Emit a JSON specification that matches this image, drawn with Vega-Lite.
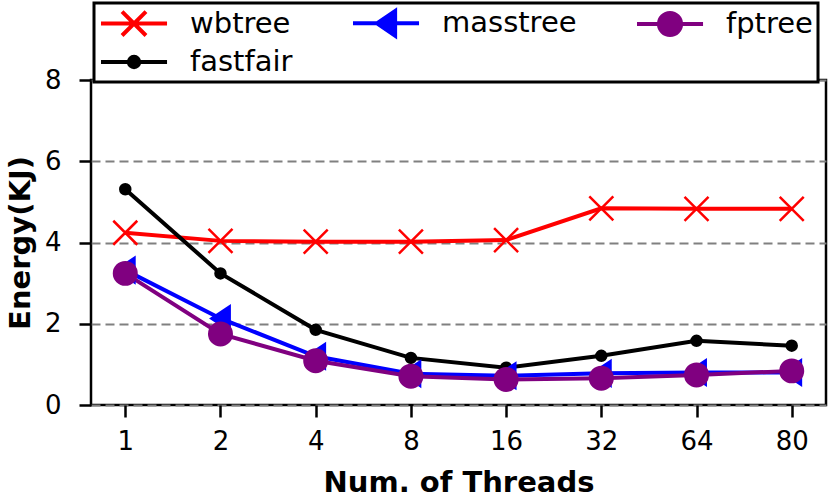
{
  "$schema": "https://vega.github.io/schema/vega-lite/v6.json",
  "width": 735,
  "height": 325,
  "autosize": {"type": "none"},
  "padding": {"left": 91, "top": 80, "right": 4, "bottom": 97},
  "background": "white",
  "config": {
    "font": "DejaVu Sans",
    "view": {"stroke": "black", "strokeWidth": 2.5}
  },
  "data": {
    "values": [
      {"threads": "1", "tree": "wbtree", "energy": 4.24},
      {"threads": "2", "tree": "wbtree", "energy": 4.04},
      {"threads": "4", "tree": "wbtree", "energy": 4.02},
      {"threads": "8", "tree": "wbtree", "energy": 4.02},
      {"threads": "16", "tree": "wbtree", "energy": 4.06},
      {"threads": "32", "tree": "wbtree", "energy": 4.84},
      {"threads": "64", "tree": "wbtree", "energy": 4.83},
      {"threads": "80", "tree": "wbtree", "energy": 4.83},
      {"threads": "1", "tree": "fastfair", "energy": 5.31},
      {"threads": "2", "tree": "fastfair", "energy": 3.24},
      {"threads": "4", "tree": "fastfair", "energy": 1.85},
      {"threads": "8", "tree": "fastfair", "energy": 1.16},
      {"threads": "16", "tree": "fastfair", "energy": 0.92},
      {"threads": "32", "tree": "fastfair", "energy": 1.21},
      {"threads": "64", "tree": "fastfair", "energy": 1.58},
      {"threads": "80", "tree": "fastfair", "energy": 1.46},
      {"threads": "1", "tree": "masstree", "energy": 3.32},
      {"threads": "2", "tree": "masstree", "energy": 2.13},
      {"threads": "4", "tree": "masstree", "energy": 1.2},
      {"threads": "8", "tree": "masstree", "energy": 0.77},
      {"threads": "16", "tree": "masstree", "energy": 0.72},
      {"threads": "32", "tree": "masstree", "energy": 0.78},
      {"threads": "64", "tree": "masstree", "energy": 0.8},
      {"threads": "80", "tree": "masstree", "energy": 0.8},
      {"threads": "1", "tree": "fptree", "energy": 3.24},
      {"threads": "2", "tree": "fptree", "energy": 1.75},
      {"threads": "4", "tree": "fptree", "energy": 1.09},
      {"threads": "8", "tree": "fptree", "energy": 0.71},
      {"threads": "16", "tree": "fptree", "energy": 0.63},
      {"threads": "32", "tree": "fptree", "energy": 0.66},
      {"threads": "64", "tree": "fptree", "energy": 0.74},
      {"threads": "80", "tree": "fptree", "energy": 0.84}
    ]
  },
  "encoding": {
    "x": {
      "field": "threads",
      "type": "ordinal",
      "sort": ["1", "2", "4", "8", "16", "32", "64", "80"],
      "scale": {"type": "point", "padding": 0.36},
      "axis": {
        "title": "Num. of Threads",
        "titleFontSize": 29,
        "titleFontWeight": "bold",
        "titleColor": "black",
        "titlePadding": 14,
        "labelFontSize": 26,
        "labelColor": "black",
        "labelAngle": 0,
        "labelPadding": 11,
        "tickSize": 12,
        "tickWidth": 2.5,
        "tickColor": "black",
        "domain": false,
        "grid": false
      }
    },
    "y": {
      "field": "energy",
      "type": "quantitative",
      "scale": {"domain": [0, 8], "nice": false},
      "axis": {
        "title": "Energy(KJ)",
        "titleFontSize": 29,
        "titleFontWeight": "bold",
        "titleColor": "black",
        "titlePadding": 9,
        "values": [0, 2, 4, 6, 8],
        "labelFontSize": 26,
        "labelColor": "black",
        "labelPadding": 18,
        "tickSize": 12,
        "tickWidth": 2.5,
        "tickColor": "black",
        "domain": false,
        "grid": true,
        "gridColor": "#808080",
        "gridWidth": 2.2,
        "gridDash": [9, 5]
      }
    },
    "color": {
      "field": "tree",
      "type": "nominal",
      "scale": {
        "domain": ["wbtree", "masstree", "fptree", "fastfair"],
        "range": ["#ff0000", "#0000ff", "#800080", "#000000"]
      },
      "legend": {
        "orient": "none",
        "legendX": 3,
        "legendY": -77,
        "direction": "horizontal",
        "columns": 3,
        "title": null,
        "symbolSize": 676,
        "symbolStrokeWidth": 4,
        "labelFontSize": 29,
        "labelColor": "black",
        "labelOffset": 61,
        "columnPadding": 52,
        "rowPadding": 3,
        "padding": 5,
        "strokeColor": "black",
        "fillColor": "white",
        "cornerRadius": 0,
        "encode": {
          "legend": {
            "update": {"strokeWidth": {"value": 3}}
          },
          "symbols": {
            "update": {
              "shape": {"signal": "datum.value === 'wbtree' ? 'M-1,0L4.08,0M0.62,-0.92L2.46,0.92M0.62,0.92L2.46,-0.92' : datum.value === 'masstree' ? 'M-1,0L4.08,0M0.84,0L2.24,-0.95L2.24,0.95Z' : datum.value === 'fptree' ? 'M-1,0L4.08,0M0.69,0A0.85,0.85 0 1,0 2.39,0A0.85,0.85 0 1,0 0.69,0Z' : 'M-1,0L4.08,0M1.14,0A0.4,0.4 0 1,0 1.94,0A0.4,0.4 0 1,0 1.14,0Z'"},
              "fill": {"signal": "scale('color', datum.value)"},
              "stroke": {"signal": "scale('color', datum.value)"},
              "strokeWidth": {"value": 4},
              "opacity": {"value": 1}
            }
          }
        }
      }
    }
  },
  "layer": [
    {"mark": {"type": "line", "strokeWidth": 4}},
    {
      "mark": {"type": "point", "filled": true, "opacity": 1, "strokeWidth": 2.5},
      "encoding": {
        "stroke": {
          "field": "tree",
          "type": "nominal",
          "scale": {"range": ["#000000", "#800080", "#0000ff", "#ff0000"]},
          "legend": null
        },
        "shape": {
          "field": "tree",
          "type": "nominal",
          "scale": {"range": ["circle", "circle", "M-0.75,0L0.75,-1L0.75,1Z", "M-1,-1L1,1M-1,1L1,-1"]},
          "legend": null
        },
        "size": {
          "field": "tree",
          "type": "nominal",
          "scale": {"type": "ordinal", "range": [100, 506, 600, 576]},
          "legend": null
        }
      }
    }
  ]
}
